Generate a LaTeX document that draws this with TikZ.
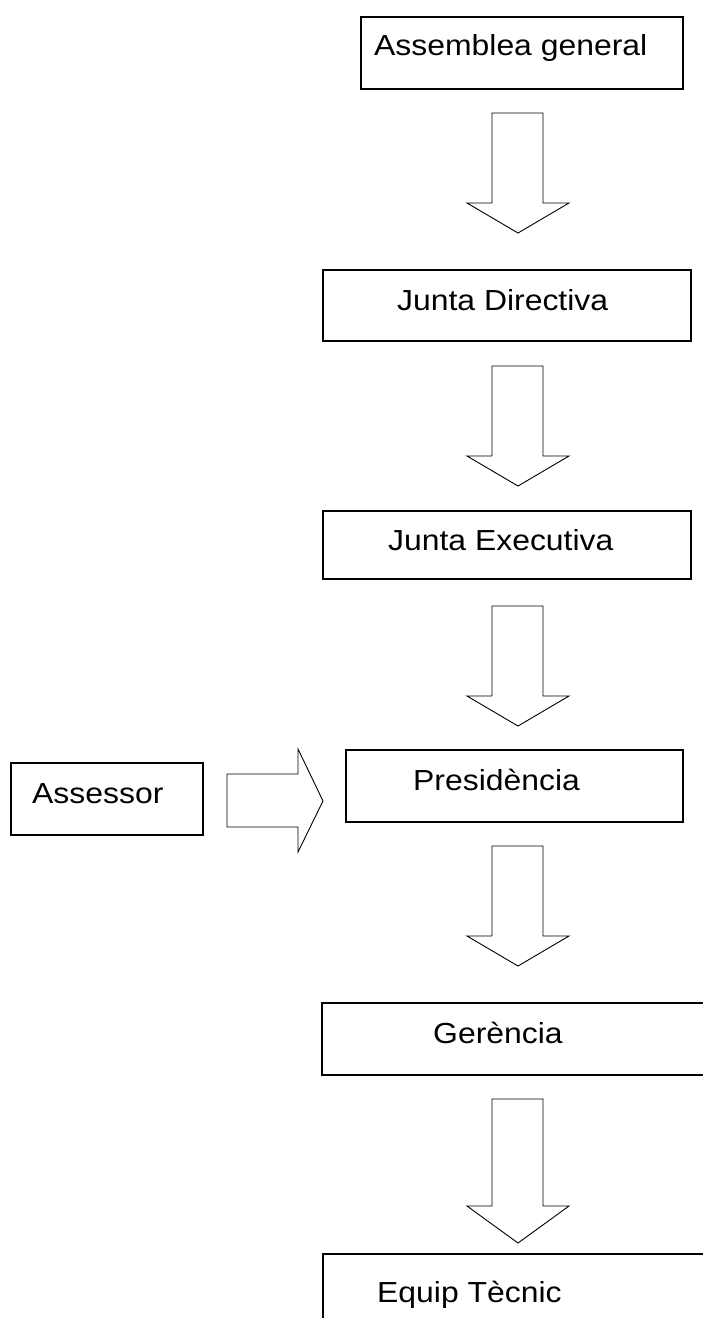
\documentclass[tikz,border=0pt]{standalone}
\usepackage{fontspec}
\setmainfont{Liberation Sans}[FakeStretch=1.1]
\begin{document}
\begin{tikzpicture}[x=1pt,y=-1pt,
  boxline/.style={draw=black,line width=1.8pt},
  lbl/.style={inner sep=0pt,anchor=base west,font=\fontsize{29}{34}\selectfont},
  blockarrow/.style={draw=black,line width=0.9pt,fill=white,line join=miter}]
\useasboundingbox (0,0) rectangle (703,1318);
\begin{scope}
\clip (0,0) rectangle (703,1318);
% boxes
\draw[boxline] (361,17) rectangle (683,89);
\draw[boxline] (323,270) rectangle (691,341);
\draw[boxline] (323,511) rectangle (691,579);
\draw[boxline] (346,750) rectangle (683,822);
\draw[boxline] (11,763) rectangle (203,835);
\draw[boxline] (322,1003) rectangle (720,1075);
\draw[boxline] (323,1254) rectangle (720,1340);
% labels
\node[lbl] (t1) at (374,55) {Assemblea general};
\node[lbl] (t2) at (397,310) {Junta Directiva};
\node[lbl] (t3) at (388,550) {Junta Executiva};
\node[lbl] (t4) at (413,790) {Presidència};
\node[lbl] (t5) at (32,803) {Assessor};
\node[lbl] (t6) at (433,1043) {Gerència};
\node[lbl] (t7) at (377,1302) {Equip Tècnic};
% block arrows (down)
\foreach \yt/\yh/\yp in {113/203/233, 366/456/486, 606/696/726, 846/936/966, 1099/1206/1243}{
  \draw[blockarrow] (492,\yt) -- (543,\yt) -- (543,\yh) -- (569,\yh) -- (518,\yp) -- (467,\yh) -- (492,\yh) -- cycle;
}
% block arrow (right)
\draw[blockarrow] (227,774) -- (298,774) -- (298,749) -- (323,801) -- (298,852) -- (298,827) -- (227,827) -- cycle;
\end{scope}
\end{tikzpicture}
\end{document}
